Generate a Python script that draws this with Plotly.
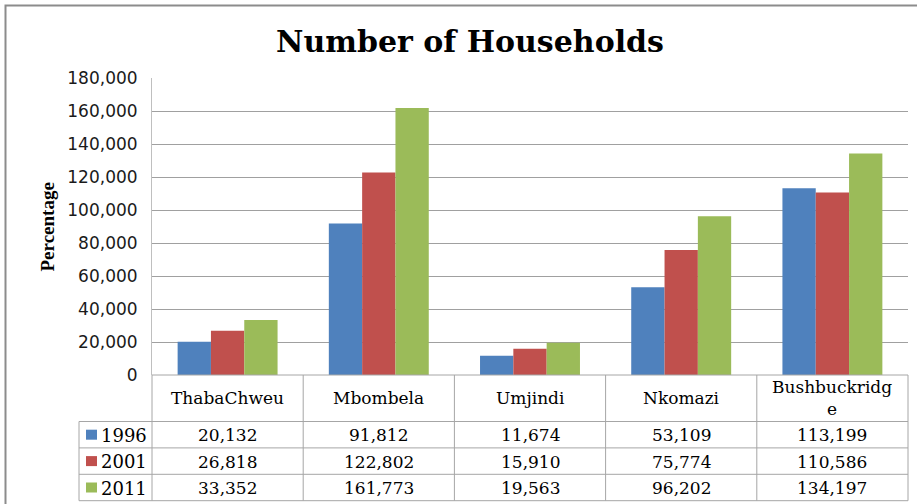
import plotly.graph_objects as go

# ---------------- data ----------------
categories = ["ThabaChweu", "Mbombela", "Umjindi", "Nkomazi", "Bushbuckridge"]
years = ["1996", "2001", "2011"]
values_1996 = [20132, 91812, 11674, 53109, 113199]
values_2001 = [26818, 122802, 15910, 75774, 110586]
values_2011 = [33352, 161773, 19563, 96202, 134197]
series_values = [values_1996, values_2001, values_2011]
y_ticks = [0, 20000, 40000, 60000, 80000, 100000, 120000, 140000, 160000, 180000]
title_text = "Number of Households"
y_title = "Percentage"

# ---------------- styling ----------------
colors = ["#4F81BD", "#C0504D", "#9BBB59"]
W, H = 917, 504
L, R, T, B = 152, 9, 78, 129
plot_w = W - L - R
plot_h = H - T - B
line_col = "#a6a6a6"
table_font = dict(family="DejaVu Serif", size=17, color="#000000")


def px(x):
    return (x - L) / plot_w


def py(y):
    return (H - B - y) / plot_h


def wrap(label, width=12):
    parts = [label[i:i + width] for i in range(0, len(label), width)]
    return "<br>".join(parts)


fig = go.Figure()
for name, vals, col in zip(years, series_values, colors):
    fig.add_trace(go.Bar(x=categories, y=vals, name=name,
                         marker=dict(color=col, line=dict(width=0))))

n = len(categories)
axis_y = H - B
header_bottom = 421.5
row_h = 26.4
legend_left = 79
table_bottom = header_bottom + row_h * len(years)

shapes = []
annotations = []

# table lines
shapes.append(dict(type="line", xref="paper", yref="paper", x0=0, x1=1,
                   y0=py(axis_y), y1=py(axis_y), line=dict(color=line_col, width=1)))
for k in range(len(years) + 1):
    yy = header_bottom + row_h * k
    shapes.append(dict(type="line", xref="paper", yref="paper", x0=px(legend_left), x1=1,
                       y0=py(yy), y1=py(yy), line=dict(color=line_col, width=1)))
for i in range(n + 1):
    shapes.append(dict(type="line", xref="paper", yref="paper", x0=i / n, x1=i / n,
                       y0=py(axis_y), y1=py(table_bottom), line=dict(color=line_col, width=1)))
shapes.append(dict(type="line", xref="paper", yref="paper", x0=px(legend_left), x1=px(legend_left),
                   y0=py(header_bottom), y1=py(table_bottom), line=dict(color=line_col, width=1)))

# header labels
for i, c in enumerate(categories):
    annotations.append(dict(text=wrap(c), xref="paper", yref="paper",
                            x=(i + 0.5) / n, y=py((axis_y + header_bottom) / 2),
                            xanchor="center", yanchor="middle", showarrow=False,
                            font=table_font))

# rows
for r, (name, vals, col) in enumerate(zip(years, series_values, colors)):
    yc = header_bottom + row_h * (r + 0.5)
    shapes.append(dict(type="rect", xref="paper", yref="paper",
                       x0=px(86), x1=px(97), y0=py(yc + 5), y1=py(yc - 5),
                       fillcolor=col, line=dict(width=0)))
    annotations.append(dict(text=name, xref="paper", yref="paper", x=px(99), y=py(yc + 0.5),
                            xanchor="left", yanchor="middle", showarrow=False,
                            font=dict(family="DejaVu Serif", size=18, color="#000000")))
    for i, v in enumerate(vals):
        annotations.append(dict(text=f"{v:,}", xref="paper", yref="paper",
                                x=(i + 0.5) / n, y=py(yc + 0.5), xanchor="center",
                                yanchor="middle", showarrow=False, font=table_font))

# y axis title
annotations.append(dict(text=f"<b>{y_title}</b>", xref="paper", yref="paper",
                        x=px(47), y=py(227.5), textangle=-90, showarrow=False,
                        xanchor="center", yanchor="middle",
                        font=dict(family="Liberation Serif", size=19, color="#000000")))

# outer chart border
shapes.append(dict(type="rect", xref="paper", yref="paper",
                   x0=px(5.5), x1=px(960), y0=py(5.5), y1=py(560),
                   line=dict(color="#8c8c8c", width=2), fillcolor="rgba(0,0,0,0)"))

fig.update_layout(
    width=W, height=H,
    margin=dict(l=L, r=R, t=T, b=B),
    paper_bgcolor="white", plot_bgcolor="white",
    showlegend=False,
    barmode="group", bargap=0.339, bargroupgap=0,
    title=dict(text=title_text, x=470 / W, xanchor="center", xref="container",
               y=1 - 41.5 / H, yanchor="middle", yref="container",
               font=dict(family="DejaVu Serif", size=30, weight="bold", color="#000000")),
    xaxis=dict(range=[-0.5, n - 0.5], showticklabels=False, showgrid=False,
               zeroline=False, showline=False, ticks=""),
    yaxis=dict(range=[0, 180000], tickvals=y_ticks, tickformat=",d",
               showgrid=True, gridcolor="#a0a0a0", gridwidth=1,
               zeroline=False, showline=True, linecolor="#bfbfbf", linewidth=1,
               ticks="", ticklabelstandoff=10,
               tickfont=dict(family="DejaVu Sans", size=17, color="#1a1a1a")),
    shapes=shapes,
    annotations=annotations,
)

fig.write_html("out.html", config={"displayModeBar": False},
               post_script="document.body.style.margin='0px';document.body.style.overflow='hidden';")
